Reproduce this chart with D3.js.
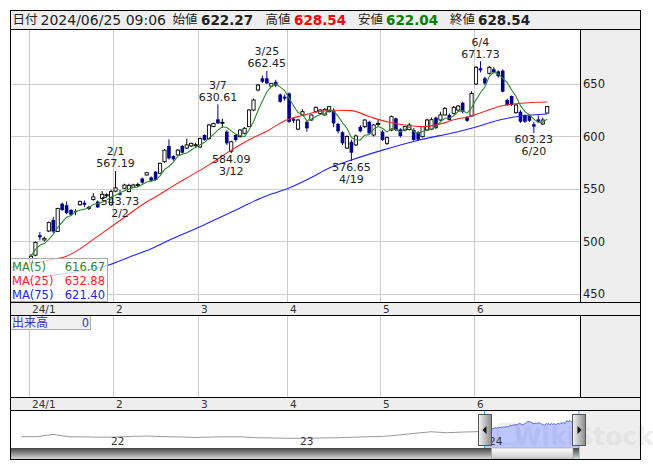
<!DOCTYPE html>
<html><head><meta charset="utf-8">
<script src="https://cdn.jsdelivr.net/npm/d3@7"></script>
<style>body{margin:0;background:#fff;} svg{display:block;font-family:"DejaVu Sans",Verdana,sans-serif;}</style>
</head><body><svg id="c" width="653" height="470"></svg>
<script>
// ---------- DATA ----------
const janDays=[4,5,9,10,11,12,15,16,17,18,19,22,23,24,25,26,29,30,31];
const febDays=[1,2,5,6,7,8,9,13,14,15,16,19,20,21,22,26,27,28,29];
const marDays=[1,4,5,6,7,8,11,12,13,14,15,18,19,21,22,25,26,27,28,29];
const aprDays=[1,2,3,4,5,8,9,10,11,12,15,16,17,18,19,22,23,24,25,26,30];
const mayDays=[1,2,7,8,9,10,13,14,15,16,17,20,21,22,23,24,27,28,29,30,31];
const junDays=[3,4,5,6,7,10,11,12,13,14,17,18,19,20,21,24,25];
const monthLabels=["24/1","2","3","4","5","6"];

const opens=[480,487,506,501.5,510,520.5,509.5,536,534.5,530,529,535,537,532,540,538,541,544,535,
548,546,550.7,547.5,551.7,554,560,563.3,561,566.5,565,576,590.9,581.4,582.4,591,589,591,592,
590,601.4,598,609.4,616.3,613,604.6,586,601.4,599.8,603,609.4,625.2,644.3,655.4,655.4,648,652,640,638,
641,617,607,620.5,614,615.7,623.6,622,620.5,623.6,625,612,604,589,595,592,609,609.4,614,601.4,612,
604.6,593.5,606.2,617.3,606.8,606.2,606.5,606.2,604,599.8,606.2,607,618,615.7,620.5,620.5,622,625.2,632.2,618.3,619.5,
650,665,655.4,660.2,664,662,662.7,634.8,638.6,622.7,623.6,620.5,619.5,611.6,616.3,611.9,622.27];
const highs=[488,500,509,504.5,519,523.5,532,537,538,531,531,539,539,534,546,539,548,546,549,
567.19,549,555,555,555,556,561,566,562,567,575,588,597.3,582,588,592,598,594,594,
599,602,612,613,630.61,617,606,596,602,607,609,626,636,650,658,662.45,651,654,641,640,
642,618,617,626,615,621,628.5,626,627,629,627,613,605,601,597,602,611,616.5,615,612,616,
606,600,620,618,608,610,613,608,605,610,617,618,619,623.6,628,622,629,630,633,619.5,643,
667,671.73,657,667,666,663,664,636,639,631,625,621,621,614,620,618,628.54];
const lows=[478,486,501,500,509,508,509,529,526,525,525,534,533,530,539,532,540,542,534,
547,543.73,550,547,551,552,555,563,557,558,564,575,578,577,582,584,588,590,589,
589,596,597,609,612,608,592,584.09,595,599,602,609,624,643,651,650,647,647,632,634,
613,613,606,620,604.6,615,623,621,620,623,609,603,592,588,576.65,591,604,608,602,600,609,
596,592,605,605,599,605,606,596,596,599,605,606,607,615,620,615,621,624,622,614,619,
649,661,649,659,660,656,642,629,629,622,613,613,614,603.23,613,611,622.04];
const closes=[486,499,504,503,518,509.5,531.5,530,527,525.5,528.5,538,535,532.5,542.5,532.5,545,544.5,547.5,
551,544.5,553.8,553.5,553.8,554.2,556,565.5,558,558.6,574.5,587,579.2,578.3,587,584.6,592,593.5,592.2,
598,596.7,611,612.5,612.5,613.5,593.5,595,596.7,606.2,607.8,625.2,634.8,649,652.2,650.6,650.6,648.5,633,636,
614,615,615.7,623.6,607.8,620.5,627.8,625.2,625.9,628.4,612.5,605,593.5,600,584.6,600.5,605,615.7,603,611,612.5,
596.7,598.9,618.9,606.2,600.5,609.4,611,596.7,597,609.4,615.7,616,608,620.5,626.8,615.7,627.8,629,623.6,615,641,
665.9,663,650.6,665.9,661,657.5,642.7,630,630,630,614.1,614.1,615,609.4,614.1,615.7,628.54];

// moving averages (day index, value)
const ma25Pts=[[-5,475],[0,479],[5,483],[8,486],[11,493],[14,502],[18,514],[22,526],[25,535],[29,545],[32,553],[36,563],[40,573],[45,587],[49,597],[53,605],[57,615],[61,620],[65,624],[69,625],[72,624.6],[76,619],[80,614],[84,611],[88,609.5],[92,612],[95,616],[99,619.5],[102,624],[105,628.4],[110,631.6],[116,632.88]];
const ma75Pts=[[-5,461],[0,464],[5,468],[10,471],[14,474],[17,477],[22,485],[27,493],[32,503],[38,514],[43,524],[47,532],[52,542],[58,551],[63,561],[67,570],[72,577.6],[79,587],[87,596.5],[96,604.6],[100,609],[105,615.5],[110,619.5],[116,621.4]];
const legendNames=["MA(5)","MA(25)","MA(75)"];
const legendValues=[616.67,632.88,621.40];

const yTicks=[450,500,550,600,650];
const marks=[{date:"2/1",kind:"high"},{date:"2/2",kind:"low"},{date:"3/7",kind:"high"},{date:"3/12",kind:"low"},
{date:"3/25",kind:"high"},{date:"4/19",kind:"low"},{date:"6/4",kind:"high"},{date:"6/20",kind:"low"}];

// navigator: monthly values Jul 2021 .. Dec 2023 (then daily closes for 2024)
const navMonthly=[379,380,420,379,375,370,372,385,390,380,375,365,372,378,375,360,355,350,350,355,360,368,378,385,410,440,468,450,462,470];
const navYears=["22","23","24"];

// ---------- LAYOUT ----------
const svg=d3.select("#c");
const L=10,R=580,RR=640,T=10,HB=29,PB=302,B1=315,VB=397,B2=410,SB=448,BOT=459;
const dates=[];
[janDays,febDays,marDays,aprDays,mayDays,junDays].forEach((ds,m)=>ds.forEach(d=>dates.push(`${m+1}/${d}`)));
const N=dates.length;
const x=d3.scaleLinear().domain([-4.72,123.37]).range([L,R]);
const slot=x(1)-x(0);
const y=d3.scaleLinear().domain([442.38,702.38]).range([PB,HB]);
const monthStart=[];dates.forEach((d,i)=>{const m=d.split("/")[0];if(i===0||dates[i-1].split("/")[0]!==m)monthStart.push(i);});
const gridX=monthStart.map(i=>Math.round(x(i)-slot/2)+0.5);

// backgrounds
svg.append("rect").attr("x",L).attr("y",T).attr("width",RR-L).attr("height",HB-T).attr("fill","#eeeeee");
svg.append("rect").attr("x",R).attr("y",HB).attr("width",RR-R).attr("height",BOT-HB).attr("fill","#eeeeee");
svg.append("rect").attr("x",L).attr("y",PB).attr("width",RR-L).attr("height",B1-PB).attr("fill","#eeeeee");
svg.append("rect").attr("x",L).attr("y",VB).attr("width",RR-L).attr("height",B2-VB).attr("fill","#eeeeee");

// grid
const g=svg.append("g").attr("stroke","#cccccc").attr("stroke-width",1);
yTicks.forEach(v=>g.append("line").attr("x1",L).attr("x2",R).attr("y1",Math.round(y(v))+0.5).attr("y2",Math.round(y(v))+0.5));
gridX.forEach(gx=>{g.append("line").attr("x1",gx).attr("x2",gx).attr("y1",HB).attr("y2",PB);
  g.append("line").attr("x1",gx).attr("x2",gx).attr("y1",B1).attr("y2",VB);});

// right axis labels
svg.append("g").selectAll("text").data(yTicks).join("text").attr("x",583).attr("y",v=>y(v)+4.2)
 .attr("font-size",11.5).attr("fill","#222").text(d=>d);

// month labels in both bands
[PB,VB].forEach(b=>svg.append("g").selectAll("text").data(monthLabels).join("text")
 .attr("x",(d,i)=>gridX[i]+2.5).attr("y",b+10.5).attr("font-size",10.5).attr("fill","#333").text(d=>d));

// candles
const cg=svg.append("g");
const UP="#000000",DN="#00008b";
d3.range(N).forEach(i=>{
  const cx=x(i),o=opens[i],c=closes[i],up=c>=o;
  cg.append("line").attr("x1",cx).attr("x2",cx).attr("y1",y(highs[i])).attr("y2",y(lows[i]))
    .attr("stroke",up?UP:DN).attr("stroke-width",1);
  const top=y(Math.max(o,c)),h=Math.max(1,y(Math.min(o,c))-top);
  if(up) cg.append("rect").attr("x",cx-1.6).attr("y",top).attr("width",3.2).attr("height",h)
    .attr("fill","#fff").attr("stroke",UP).attr("stroke-width",0.9);
  else cg.append("rect").attr("x",cx-1.8).attr("y",top).attr("width",3.6).attr("height",h).attr("fill",DN);
});

// moving averages
const ma5=closes.map((c,i)=>d3.mean(closes.slice(Math.max(0,i-4),i+1)));
const line=d3.line().x(d=>x(d[0])).y(d=>y(d[1])).curve(d3.curveMonotoneX);
svg.append("clipPath").attr("id","pc").append("rect").attr("x",L).attr("y",HB).attr("width",R-L).attr("height",PB-HB);
const mg=svg.append("g").attr("clip-path","url(#pc)").attr("fill","none").attr("stroke-width",1.1);
mg.append("path").attr("d",line(ma75Pts)).attr("stroke","#2222ff");
mg.append("path").attr("d",line(ma25Pts)).attr("stroke","#ff2222");
mg.append("path").attr("d",d3.line().x((d,i)=>x(i)).y(d=>y(d))(ma5)).attr("stroke","#2b8a2b");

// high/low annotations
const ag=svg.append("g").attr("font-size",11).attr("fill","#222").attr("text-anchor","middle");
marks.forEach(mk=>{
  const i=dates.indexOf(mk.date),cx=x(i);
  if(mk.kind==="high"){const v=highs[i],py=y(v);
    ag.append("text").attr("x",cx).attr("y",py-15.5).text(mk.date);
    ag.append("text").attr("x",cx).attr("y",py-3.5).text(v.toFixed(2));
  } else {const v=lows[i],py=y(v);
    ag.append("text").attr("x",cx).attr("y",py+9.5).text(v.toFixed(2));
    ag.append("text").attr("x",cx).attr("y",py+21.5).text(mk.date);
  }
});

// MA legend
svg.append("rect").attr("x",L+0.5).attr("y",258.5).attr("width",97).attr("height",43).attr("fill","rgba(255,255,255,0.78)").attr("stroke","#aaaaaa");
const lc=["#2b8a2b","#ff2222","#2222ff"];
legendNames.forEach((n,k)=>{
  svg.append("text").attr("x",12).attr("y",271+k*13.8).attr("font-size",11.5).attr("fill",lc[k]).text(n);
  svg.append("text").attr("x",105).attr("y",271+k*13.8).attr("font-size",11.5).attr("fill",lc[k]).attr("text-anchor","end").text(legendValues[k].toFixed(2));
});

// volume label
svg.append("rect").attr("x",L+0.5).attr("y",B1+0.5).attr("width",80).attr("height",14).attr("fill","#f0f0f0").attr("stroke","#aaaaaa");
svg.append("text").attr("x",12).attr("y",B1+12).attr("font-size",12).attr("font-family","Noto Sans CJK JP").attr("fill","#3333bb").text("出来高");
svg.append("text").attr("x",89).attr("y",B1+12).attr("font-size",11.5).attr("text-anchor","end").attr("fill","#3333bb").text("0");

// header
const hy=24.5, hdr=[
 {t:"日付",x:12.5,cjk:1},{t:"2024/06/25 09:06",x:40.5},
 {t:"始値",x:172.5,cjk:1},{t:opens[N-1].toFixed(2),x:201,b:1,c:"#222"},
 {t:"高値",x:265.5,cjk:1},{t:highs[N-1].toFixed(2),x:294,b:1,c:"#ff0000"},
 {t:"安値",x:358,cjk:1},{t:lows[N-1].toFixed(2),x:386,b:1,c:"#008000"},
 {t:"終値",x:450,cjk:1},{t:closes[N-1].toFixed(2),x:478,b:1,c:"#222"}];
hdr.forEach(h=>{const t=svg.append("text").attr("x",h.x).attr("y",hy).attr("fill",h.c||"#222").text(h.t);
  if(h.cjk)t.attr("font-family","Noto Sans CJK JP").attr("font-size",12.5).attr("y",hy-0.5);
  else if(h.b)t.attr("font-weight","bold").attr("font-size",13.5);
  else t.attr("font-size",14);});

// navigator
const nx=d3.scaleLinear().domain([0,36]).range([13.5,580.5]);
const ny=d3.scaleLinear().domain([175,860]).range([SB,B2]);
const navPts=navMonthly.map((v,m)=>[nx(m+0.5),ny(v)]);
const dailyPts=closes.map((v,i)=>[nx(30+i*6/N),ny(v)]);
const selL=484.5,selR=579;
svg.append("text").attr("x",514).attr("y",445).attr("font-size",25).attr("font-weight","bold").attr("fill","#d8d8d8").attr("opacity",0.45).text("WikiStock");
svg.append("rect").attr("x",498).attr("y",424).attr("width",20).attr("height",20).attr("rx",4).attr("fill","none").attr("stroke","#d8d8d8").attr("stroke-width",3).attr("opacity",0.4);
const nl=d3.line().curve(d3.curveLinear);
const allPts=navPts.concat(dailyPts);
const selPts=allPts.filter(p=>p[0]>=selL);
svg.append("path").attr("d",d3.area().y0(SB).x(p=>p[0]).y1(p=>p[1])([[selL,ny(480)]].concat(selPts).concat([[selR,selPts[selPts.length-1][1]]])))
  .attr("fill","rgba(110,130,250,0.45)");
svg.append("path").attr("d",nl(allPts.filter(p=>p[0]<=selL+1))).attr("fill","none").attr("stroke","#999").attr("stroke-width",1);
svg.append("path").attr("d",nl(selPts)).attr("fill","none").attr("stroke","#5060d8").attr("stroke-width",1);
const yearStart=[6,18,30];
svg.append("g").selectAll("text").data(navYears).join("text").attr("x",(d,i)=>nx(yearStart[i])+3).attr("y",445)
  .attr("font-size",10.5).attr("fill","#333").text(d=>d);
[selL,selR].forEach(sx=>svg.append("line").attr("x1",sx).attr("x2",sx).attr("y1",B2).attr("y2",BOT).attr("stroke","#22aaee").attr("stroke-width",1));

// scrollbar
const defs=svg.append("defs");
const sg=defs.append("linearGradient").attr("id","sb").attr("x1",0).attr("x2",0).attr("y1",0).attr("y2",1);
sg.append("stop").attr("offset",0).attr("stop-color","#444");sg.append("stop").attr("offset",1).attr("stop-color","#d8d8d8");
const tg=defs.append("linearGradient").attr("id","th").attr("x1",0).attr("x2",0).attr("y1",0).attr("y2",1);
tg.append("stop").attr("offset",0).attr("stop-color","#ffffff");tg.append("stop").attr("offset",1).attr("stop-color","#c8c8c8");
const hg=defs.append("linearGradient").attr("id","hd").attr("x1",0).attr("x2",1).attr("y1",0).attr("y2",0);
hg.append("stop").attr("offset",0).attr("stop-color","#f4f4f4");hg.append("stop").attr("offset",1).attr("stop-color","#8a8a8a");
svg.append("rect").attr("x",L).attr("y",SB).attr("width",selR-L).attr("height",BOT-SB).attr("fill","url(#sb)");
svg.append("rect").attr("x",491.5).attr("y",SB).attr("width",81.5).attr("height",BOT-SB).attr("fill","url(#th)").attr("stroke","#999").attr("stroke-width",0.6);
// handles
[[478.5,"l"],[572.5,"r"]].forEach(([hx,dir])=>{
  svg.append("rect").attr("x",hx).attr("y",414.5).attr("width",13).attr("height",31).attr("fill","url(#hd)").attr("stroke","#555");
  const cx=hx+6.5,cy=430;
  svg.append("path").attr("d",dir==="l"?`M${cx-2.5},${cy}L${cx+1.5},${cy-4}L${cx+1.5},${cy+4}Z`:`M${cx+2.5},${cy}L${cx-1.5},${cy-4}L${cx-1.5},${cy+4}Z`).attr("fill","#111");
});

// frame lines
const fl=svg.append("g").attr("stroke","#000").attr("stroke-width",1);
[[L,T+0.5,RR+0.5,T+0.5],[L,HB+0.5,RR,HB+0.5],[L,PB+0.5,RR,PB+0.5],[L,B1+0.5,RR,B1+0.5],[L,VB+0.5,RR,VB+0.5],[L,B2+0.5,RR,B2+0.5],[L,BOT+0.5,RR+0.5,BOT+0.5],
 [L+0.5,T,L+0.5,BOT+1],[RR+0.5,T,RR+0.5,BOT+1],[R+0.5,HB,R+0.5,PB],[R+0.5,B1,R+0.5,VB]].forEach(a=>fl.append("line").attr("x1",a[0]).attr("y1",a[1]).attr("x2",a[2]).attr("y2",a[3]));
</script></body></html>
